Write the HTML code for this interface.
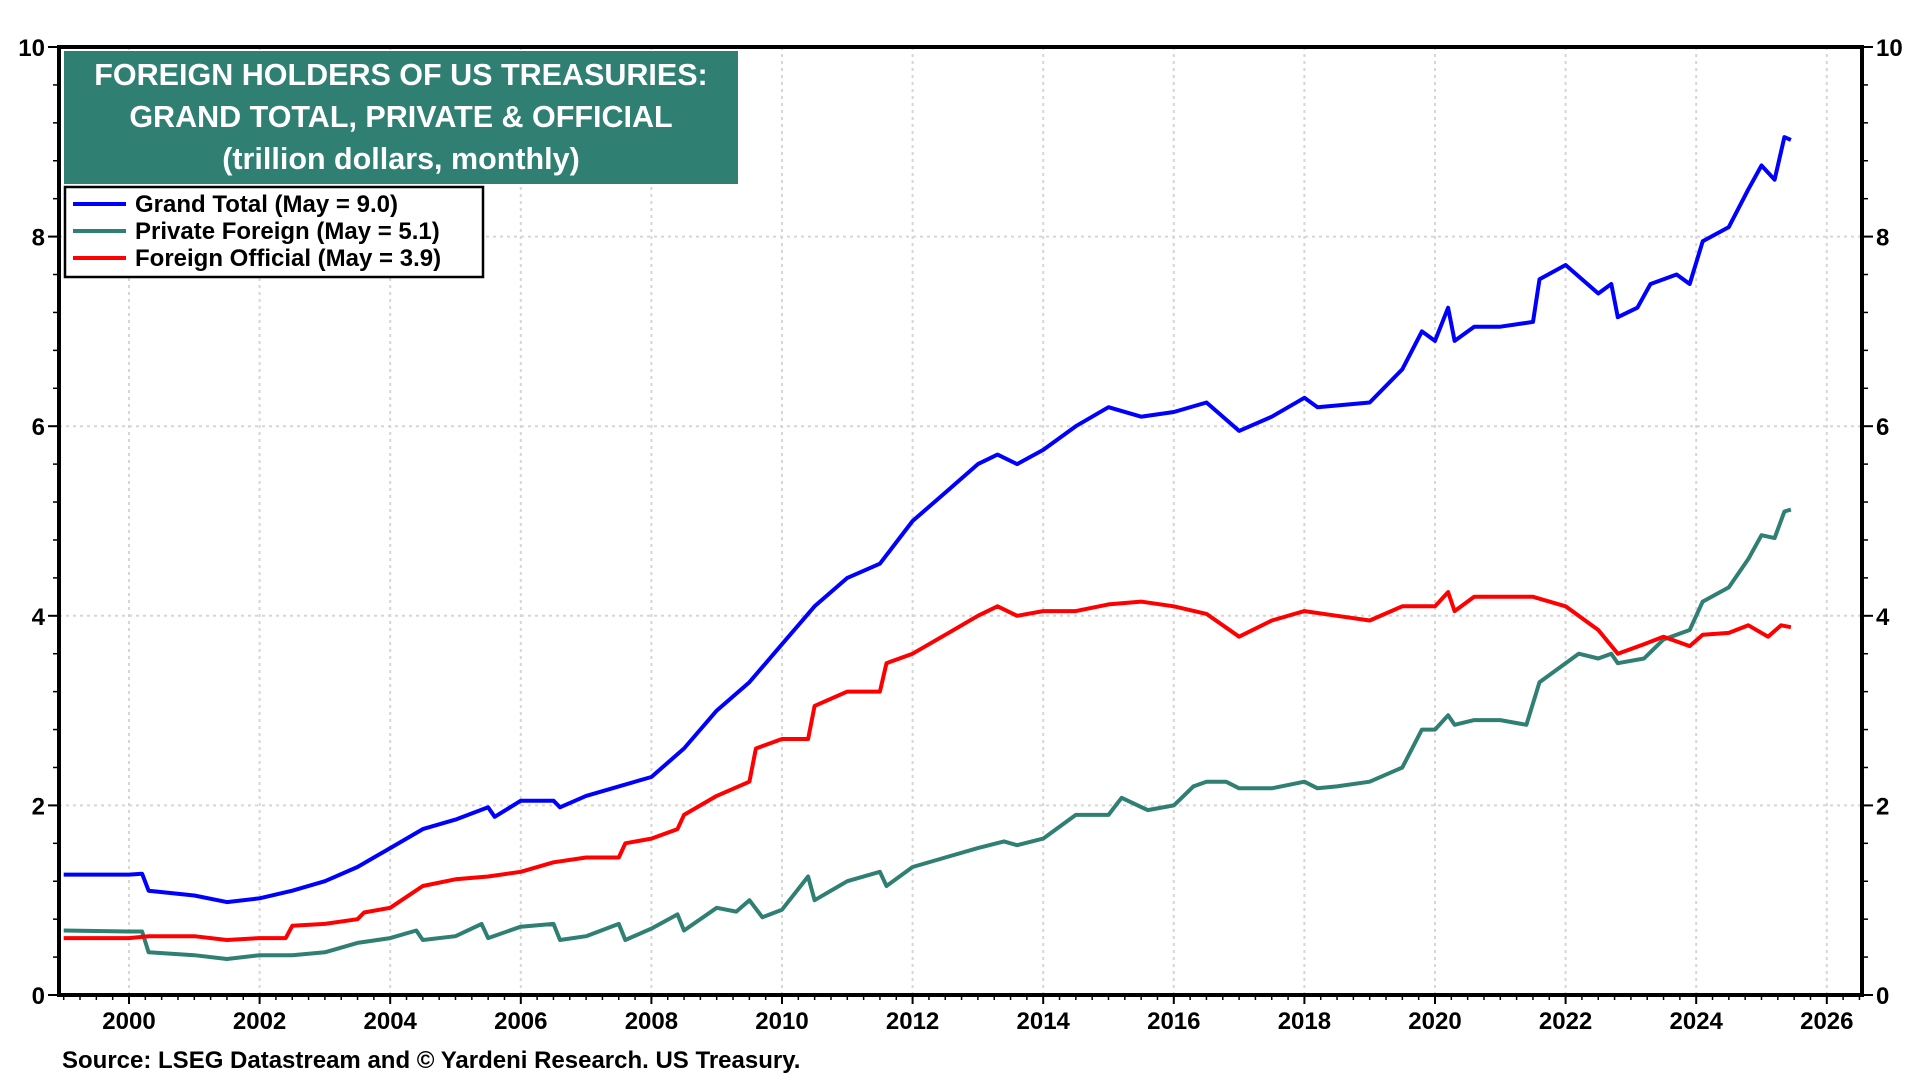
<!DOCTYPE html>
<html><head><meta charset="utf-8">
<style>
body{margin:0;background:#fff;width:1920px;height:1080px;overflow:hidden;font-family:"Liberation Sans",Arial,sans-serif}
svg text{font-family:"Liberation Sans",Arial,sans-serif;font-weight:bold}
</style></head><body>
<svg id="chart" width="1920" height="1080" viewBox="0 0 1920 1080" xmlns="http://www.w3.org/2000/svg">
<g id="grid"></g>
<g id="series"></g>
<g id="axes"></g>
<g>
<rect x="64" y="51" width="674" height="133" fill="#2f7f72"/>
<text x="401" y="85" fill="#fff" font-size="30.5" text-anchor="middle">FOREIGN HOLDERS OF US TREASURIES:</text>
<text x="401" y="127" fill="#fff" font-size="30.5" text-anchor="middle">GRAND TOTAL, PRIVATE &amp; OFFICIAL</text>
<text x="401" y="169" fill="#fff" font-size="30.5" text-anchor="middle">(trillion dollars, monthly)</text>
</g>
<g>
<rect x="65" y="187" width="418" height="90" fill="#fff" stroke="#000" stroke-width="2.5"/>
<line x1="73" y1="204" x2="126" y2="204" stroke="#0000ff" stroke-width="4"/>
<text x="135" y="212" font-size="24">Grand Total (May = 9.0)</text>
<line x1="73" y1="231" x2="126" y2="231" stroke="#2f7f72" stroke-width="4"/>
<text x="135" y="239" font-size="24">Private Foreign (May = 5.1)</text>
<line x1="73" y1="258" x2="126" y2="258" stroke="#ff0000" stroke-width="4"/>
<text x="135" y="266" font-size="24">Foreign Official (May = 3.9)</text>
</g>
<text x="62" y="1068" font-size="24">Source: LSEG Datastream and © Yardeni Research. US Treasury.</text>
</svg>
<script>
const totalDates=[1999.0,2000.0,2000.2,2000.3,2001,2001.5,2002,2002.5,2003,2003.5,2004,2004.5,2005,2005.5,2005.6,2006,2006.5,2006.6,2007,2007.5,2008,2008.5,2009,2009.5,2010,2010.5,2011,2011.5,2012,2012.5,2013,2013.3,2013.6,2014,2014.5,2015,2015.5,2016,2016.5,2017,2017.5,2018,2018.2,2019,2019.5,2019.8,2020,2020.2,2020.3,2020.6,2021,2021.5,2021.6,2022,2022.5,2022.7,2022.8,2023.1,2023.3,2023.7,2023.9,2024.1,2024.5,2024.8,2025,2025.2,2025.35,2025.45];
const totalValues=[1.27,1.27,1.28,1.1,1.05,0.98,1.02,1.1,1.2,1.35,1.55,1.75,1.85,1.98,1.88,2.05,2.05,1.98,2.1,2.2,2.3,2.6,3.0,3.3,3.7,4.1,4.4,4.55,5.0,5.3,5.6,5.7,5.6,5.75,6.0,6.2,6.1,6.15,6.25,5.95,6.1,6.3,6.2,6.25,6.6,7.0,6.9,7.25,6.9,7.05,7.05,7.1,7.55,7.7,7.4,7.5,7.15,7.25,7.5,7.6,7.5,7.95,8.1,8.5,8.75,8.6,9.05,9.02];
const privDates=[1999.0,2000.0,2000.2,2000.3,2001,2001.5,2002,2002.5,2003,2003.5,2004,2004.4,2004.5,2005,2005.4,2005.5,2006,2006.5,2006.6,2007,2007.5,2007.6,2008,2008.4,2008.5,2009,2009.3,2009.5,2009.7,2010,2010.4,2010.5,2011,2011.5,2011.6,2012,2012.5,2013,2013.4,2013.6,2014,2014.5,2015,2015.2,2015.6,2016,2016.3,2016.5,2016.8,2017,2017.5,2018,2018.2,2018.5,2019,2019.5,2019.8,2020,2020.2,2020.3,2020.6,2021,2021.4,2021.6,2022,2022.2,2022.5,2022.7,2022.8,2023.2,2023.5,2023.9,2024.1,2024.5,2024.8,2025,2025.2,2025.35,2025.45];
const privValues=[0.68,0.67,0.67,0.45,0.42,0.38,0.42,0.42,0.45,0.55,0.6,0.68,0.58,0.62,0.75,0.6,0.72,0.75,0.58,0.62,0.75,0.58,0.7,0.85,0.68,0.92,0.88,1.0,0.82,0.9,1.25,1.0,1.2,1.3,1.15,1.35,1.45,1.55,1.62,1.58,1.65,1.9,1.9,2.08,1.95,2.0,2.2,2.25,2.25,2.18,2.18,2.25,2.18,2.2,2.25,2.4,2.8,2.8,2.95,2.85,2.9,2.9,2.85,3.3,3.5,3.6,3.55,3.6,3.5,3.55,3.75,3.85,4.15,4.3,4.6,4.85,4.82,5.1,5.12];
const offDates=[1999.0,2000.0,2000.3,2001,2001.5,2002,2002.4,2002.5,2003,2003.5,2003.6,2004,2004.5,2005,2005.5,2006,2006.5,2007,2007.5,2007.6,2008,2008.4,2008.5,2009,2009.5,2009.6,2010,2010.4,2010.5,2011,2011.5,2011.6,2012,2012.5,2013,2013.3,2013.6,2014,2014.5,2015,2015.5,2016,2016.5,2017,2017.5,2018,2018.5,2019,2019.5,2020,2020.2,2020.3,2020.6,2021,2021.5,2022,2022.3,2022.5,2022.8,2023.2,2023.5,2023.9,2024.1,2024.5,2024.8,2025.1,2025.3,2025.45];
const offValues=[0.6,0.6,0.62,0.62,0.58,0.6,0.6,0.73,0.75,0.8,0.87,0.92,1.15,1.22,1.25,1.3,1.4,1.45,1.45,1.6,1.65,1.75,1.9,2.1,2.25,2.6,2.7,2.7,3.05,3.2,3.2,3.5,3.6,3.8,4.0,4.1,4.0,4.05,4.05,4.12,4.15,4.1,4.02,3.78,3.95,4.05,4.0,3.95,4.1,4.1,4.25,4.05,4.2,4.2,4.2,4.1,3.95,3.85,3.6,3.7,3.78,3.68,3.8,3.82,3.9,3.78,3.9,3.88];
const xTicks=[2000,2002,2004,2006,2008,2010,2012,2014,2016,2018,2020,2022,2024,2026];
const yTicks=[0,2,4,6,8,10];

const L=59,R=1862,T=47,B=995;
const x=d=>129+(d-2000)*65.3;
const y=v=>B-(v/10)*(B-T);
const NS='http://www.w3.org/2000/svg';
function mk(tag,attrs,parent){const e=document.createElementNS(NS,tag);for(const k in attrs)e.setAttribute(k,attrs[k]);parent.appendChild(e);return e;}
const grid=document.getElementById('grid'),axes=document.getElementById('axes'),ser=document.getElementById('series');
xTicks.forEach(t=>{
  const g=mk('line',{x1:x(t),x2:x(t),y1:T,y2:B,stroke:'#d6d6d6','stroke-width':2,'stroke-dasharray':'3,4'},grid);
  
  
  const tk=mk('line',{x1:x(t),x2:x(t),y1:B,y2:B+9,stroke:'#000','stroke-width':2},axes);
  
  
  const lb=mk('text',{x:x(t),y:1029,'font-size':24,'text-anchor':'middle'},axes);
  lb.textContent=t;
  
  
});
for(let q=1999;q<=2026.5;q+=0.25){const xx=x(q);if(xx>L&&xx<R)mk('line',{x1:xx,x2:xx,y1:B,y2:B+5,stroke:'#000','stroke-width':1.5},axes);}
for(let v=0;v<=10.001;v+=0.4){mk('line',{x1:L-6,x2:L,y1:y(v),y2:y(v),stroke:'#000','stroke-width':1.5},axes);mk('line',{x1:R,x2:R+6,y1:y(v),y2:y(v),stroke:'#000','stroke-width':1.5},axes);}
yTicks.forEach(t=>{
  if(t>0&&t<10){const g=mk('line',{x1:L,x2:R,y1:y(t),y2:y(t),stroke:'#d6d6d6','stroke-width':2,'stroke-dasharray':'3,4'},grid);
  
  }
  mk('line',{x1:L-11,x2:L,y1:y(t),y2:y(t),stroke:'#000','stroke-width':2},axes);
  mk('line',{x1:R,x2:R+11,y1:y(t),y2:y(t),stroke:'#000','stroke-width':2},axes);
  const a=mk('text',{x:L-14,y:y(t)+9,'font-size':24,'text-anchor':'end'},axes);a.textContent=t;
  
  
  const b=mk('text',{x:R+14,y:y(t)+9,'font-size':24},axes);b.textContent=t;
  
  
});
const frame=mk('path',{d:`M${L},${T} L${R},${T} L${R},${B} L${L},${B} Z`,fill:'none',stroke:'#000','stroke-width':4},axes);


function line(ds,vs,col,name){
  const p=mk('polyline',{points:ds.map((d,i)=>x(d).toFixed(1)+','+y(vs[i]).toFixed(1)).join(' '),fill:'none',stroke:col,'stroke-width':4,'stroke-linejoin':'round'},ser);
  
  
}
line(privDates,privValues,'#2f7f72','private-foreign-line');
line(offDates,offValues,'#ff0000','foreign-official-line');
line(totalDates,totalValues,'#0000ff','grand-total-line');
</script>
</body></html>
